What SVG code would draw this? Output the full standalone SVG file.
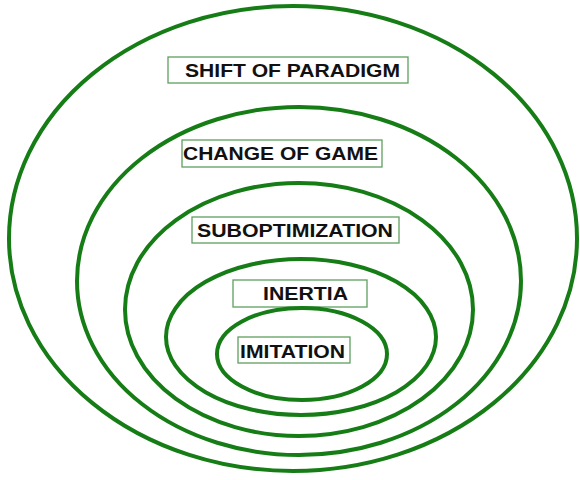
<svg xmlns="http://www.w3.org/2000/svg" width="580" height="480" viewBox="0 0 580 480">
<style>
.ring{fill:none;stroke:#167d16;stroke-width:4}
.box{fill:#fff;stroke:#5f9f5f;stroke-width:1.3}
.lbl{font-family:"Liberation Sans",Arial,sans-serif;font-weight:bold;font-size:19px;fill:#111}
</style>
<rect width="580" height="480" fill="#fff"/>
<g id="connectors"></g>
<g id="shift">
<ellipse class="ring" cx="293" cy="238.5" rx="284" ry="232.5"/>
<rect class="box" x="168" y="57" width="240" height="26"/>
<text class="lbl" x="185" y="77" textLength="215" lengthAdjust="spacingAndGlyphs">SHIFT OF PARADIGM</text>
</g>
<g id="change">
<ellipse class="ring" cx="299" cy="281" rx="222" ry="174"/>
<rect class="box" x="182" y="140" width="200" height="27"/>
<text class="lbl" x="183" y="160" textLength="195" lengthAdjust="spacingAndGlyphs">CHANGE OF GAME</text>
</g>
<g id="subopt">
<ellipse class="ring" cx="299" cy="309.5" rx="174" ry="126.5"/>
<rect class="box" x="192" y="217" width="207" height="26"/>
<text class="lbl" x="197" y="237" textLength="196" lengthAdjust="spacingAndGlyphs">SUBOPTIMIZATION</text>
</g>
<g id="inertia">
<ellipse class="ring" cx="301" cy="337" rx="135" ry="78"/>
<rect class="box" x="233" y="280" width="134" height="27"/>
<text class="lbl" x="263" y="300" textLength="85" lengthAdjust="spacingAndGlyphs">INERTIA</text>
</g>
<g id="imitation">
<ellipse class="ring" cx="302" cy="354" rx="85" ry="46"/>
<rect class="box" x="238" y="337" width="112" height="26"/>
<text class="lbl" x="240" y="358" textLength="105" lengthAdjust="spacingAndGlyphs">IMITATION</text>
</g>
</svg>
